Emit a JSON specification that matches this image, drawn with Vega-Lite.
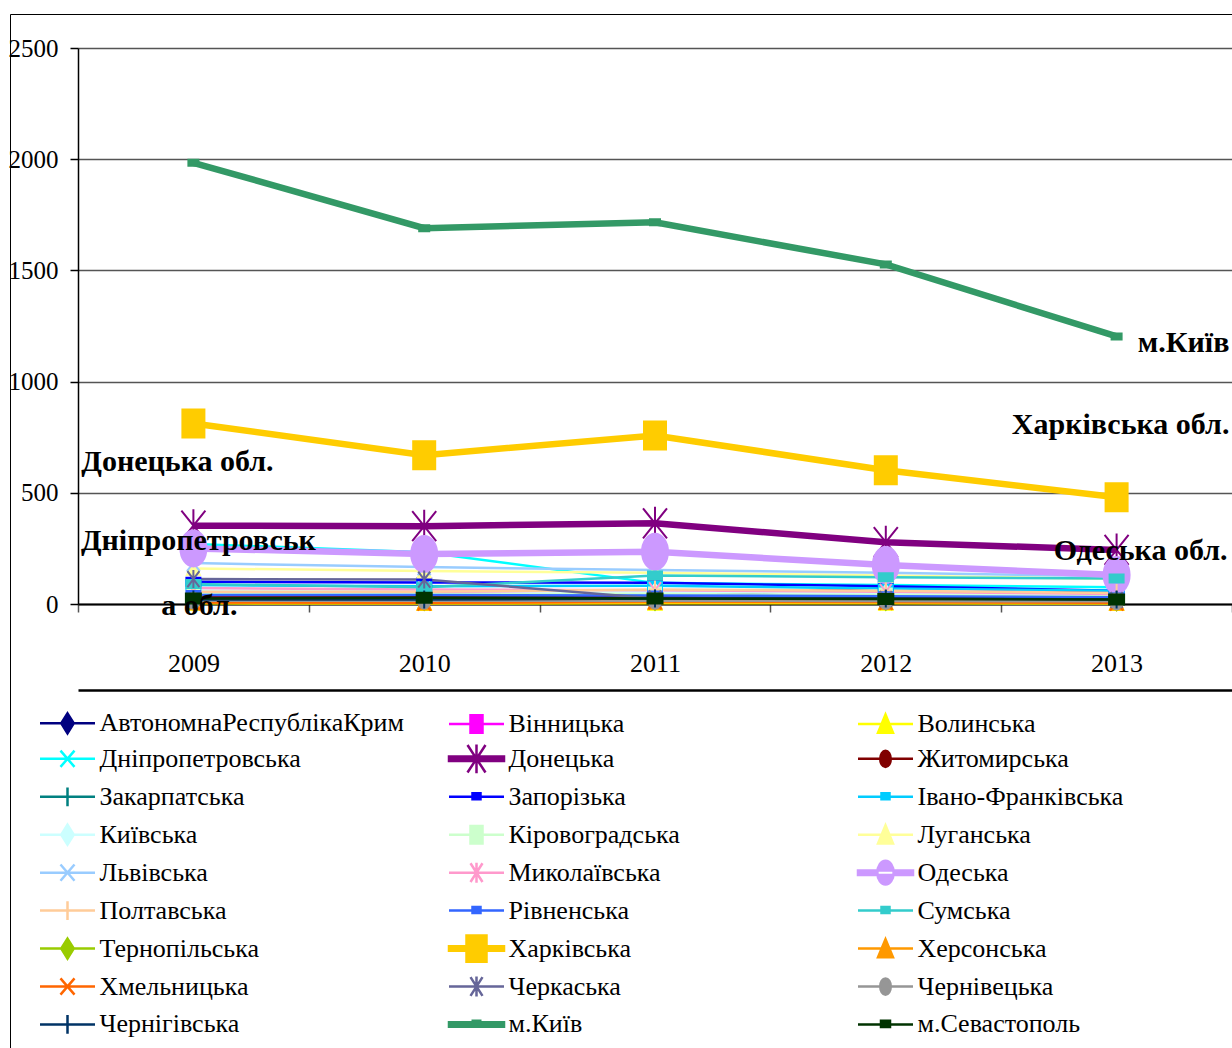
{
  "$schema": "https://vega.github.io/schema/vega-lite/v6.json",
  "width": 1154,
  "height": 556,
  "autosize": {"type": "none"},
  "padding": {"left": 78, "top": 48, "right": 0, "bottom": 444},
  "background": "white",
  "config": {"view": {"stroke": null}, "font": "Liberation Serif", "axis": {"labelFont": "Liberation Serif"}, "legend": {"labelFont": "Liberation Serif"}},
  "datasets": {
    "series": [
      {"region": "АвтономнаРеспублікаКрим", "year": "2009", "value": 28},
      {"region": "АвтономнаРеспублікаКрим", "year": "2010", "value": 28},
      {"region": "АвтономнаРеспублікаКрим", "year": "2011", "value": 32},
      {"region": "АвтономнаРеспублікаКрим", "year": "2012", "value": 75},
      {"region": "АвтономнаРеспублікаКрим", "year": "2013", "value": 55},
      {"region": "Вінницька", "year": "2009", "value": 45},
      {"region": "Вінницька", "year": "2010", "value": 50},
      {"region": "Вінницька", "year": "2011", "value": 40},
      {"region": "Вінницька", "year": "2012", "value": 35},
      {"region": "Вінницька", "year": "2013", "value": 30},
      {"region": "Волинська", "year": "2009", "value": 3},
      {"region": "Волинська", "year": "2010", "value": 2},
      {"region": "Волинська", "year": "2011", "value": 3},
      {"region": "Волинська", "year": "2012", "value": 3},
      {"region": "Волинська", "year": "2013", "value": 2},
      {"region": "Дніпропетровська", "year": "2009", "value": 270},
      {"region": "Дніпропетровська", "year": "2010", "value": 233},
      {"region": "Дніпропетровська", "year": "2011", "value": 95},
      {"region": "Дніпропетровська", "year": "2012", "value": 85},
      {"region": "Дніпропетровська", "year": "2013", "value": 75},
      {"region": "Донецька", "year": "2009", "value": 352},
      {"region": "Донецька", "year": "2010", "value": 350},
      {"region": "Донецька", "year": "2011", "value": 363},
      {"region": "Донецька", "year": "2012", "value": 278},
      {"region": "Донецька", "year": "2013", "value": 243},
      {"region": "Житомирська", "year": "2009", "value": 35},
      {"region": "Житомирська", "year": "2010", "value": 30},
      {"region": "Житомирська", "year": "2011", "value": 28},
      {"region": "Житомирська", "year": "2012", "value": 28},
      {"region": "Житомирська", "year": "2013", "value": 25},
      {"region": "Закарпатська", "year": "2009", "value": 18},
      {"region": "Закарпатська", "year": "2010", "value": 18},
      {"region": "Закарпатська", "year": "2011", "value": 18},
      {"region": "Закарпатська", "year": "2012", "value": 18},
      {"region": "Закарпатська", "year": "2013", "value": 15},
      {"region": "Запорізька", "year": "2009", "value": 100},
      {"region": "Запорізька", "year": "2010", "value": 97},
      {"region": "Запорізька", "year": "2011", "value": 95},
      {"region": "Запорізька", "year": "2012", "value": 80},
      {"region": "Запорізька", "year": "2013", "value": 60},
      {"region": "Івано-Франківська", "year": "2009", "value": 85},
      {"region": "Івано-Франківська", "year": "2010", "value": 80},
      {"region": "Івано-Франківська", "year": "2011", "value": 82},
      {"region": "Івано-Франківська", "year": "2012", "value": 70},
      {"region": "Івано-Франківська", "year": "2013", "value": 60},
      {"region": "Київська", "year": "2009", "value": 60},
      {"region": "Київська", "year": "2010", "value": 58},
      {"region": "Київська", "year": "2011", "value": 55},
      {"region": "Київська", "year": "2012", "value": 50},
      {"region": "Київська", "year": "2013", "value": 45},
      {"region": "Кіровоградська", "year": "2009", "value": 50},
      {"region": "Кіровоградська", "year": "2010", "value": 45},
      {"region": "Кіровоградська", "year": "2011", "value": 45},
      {"region": "Кіровоградська", "year": "2012", "value": 40},
      {"region": "Кіровоградська", "year": "2013", "value": 35},
      {"region": "Луганська", "year": "2009", "value": 160},
      {"region": "Луганська", "year": "2010", "value": 148},
      {"region": "Луганська", "year": "2011", "value": 140},
      {"region": "Луганська", "year": "2012", "value": 128},
      {"region": "Луганська", "year": "2013", "value": 112},
      {"region": "Львівська", "year": "2009", "value": 184},
      {"region": "Львівська", "year": "2010", "value": 166},
      {"region": "Львівська", "year": "2011", "value": 153},
      {"region": "Львівська", "year": "2012", "value": 140},
      {"region": "Львівська", "year": "2013", "value": 125},
      {"region": "Миколаївська", "year": "2009", "value": 72},
      {"region": "Миколаївська", "year": "2010", "value": 65},
      {"region": "Миколаївська", "year": "2011", "value": 62},
      {"region": "Миколаївська", "year": "2012", "value": 55},
      {"region": "Миколаївська", "year": "2013", "value": 45},
      {"region": "Одеська", "year": "2009", "value": 250},
      {"region": "Одеська", "year": "2010", "value": 225},
      {"region": "Одеська", "year": "2011", "value": 235},
      {"region": "Одеська", "year": "2012", "value": 175},
      {"region": "Одеська", "year": "2013", "value": 130},
      {"region": "Полтавська", "year": "2009", "value": 55},
      {"region": "Полтавська", "year": "2010", "value": 55},
      {"region": "Полтавська", "year": "2011", "value": 65},
      {"region": "Полтавська", "year": "2012", "value": 60},
      {"region": "Полтавська", "year": "2013", "value": 50},
      {"region": "Рівненська", "year": "2009", "value": 40},
      {"region": "Рівненська", "year": "2010", "value": 40},
      {"region": "Рівненська", "year": "2011", "value": 38},
      {"region": "Рівненська", "year": "2012", "value": 35},
      {"region": "Рівненська", "year": "2013", "value": 30},
      {"region": "Сумська", "year": "2009", "value": 90},
      {"region": "Сумська", "year": "2010", "value": 75},
      {"region": "Сумська", "year": "2011", "value": 128},
      {"region": "Сумська", "year": "2012", "value": 120},
      {"region": "Сумська", "year": "2013", "value": 115},
      {"region": "Тернопільська", "year": "2009", "value": 10},
      {"region": "Тернопільська", "year": "2010", "value": 10},
      {"region": "Тернопільська", "year": "2011", "value": 10},
      {"region": "Тернопільська", "year": "2012", "value": 10},
      {"region": "Тернопільська", "year": "2013", "value": 8},
      {"region": "Харківська", "year": "2009", "value": 812},
      {"region": "Харківська", "year": "2010", "value": 669},
      {"region": "Харківська", "year": "2011", "value": 758},
      {"region": "Харківська", "year": "2012", "value": 601},
      {"region": "Харківська", "year": "2013", "value": 480},
      {"region": "Херсонська", "year": "2009", "value": 6},
      {"region": "Херсонська", "year": "2010", "value": 4},
      {"region": "Херсонська", "year": "2011", "value": 8},
      {"region": "Херсонська", "year": "2012", "value": 7},
      {"region": "Херсонська", "year": "2013", "value": 4},
      {"region": "Хмельницька", "year": "2009", "value": 8},
      {"region": "Хмельницька", "year": "2010", "value": 6},
      {"region": "Хмельницька", "year": "2011", "value": 12},
      {"region": "Хмельницька", "year": "2012", "value": 10},
      {"region": "Хмельницька", "year": "2013", "value": 6},
      {"region": "Черкаська", "year": "2009", "value": 112},
      {"region": "Черкаська", "year": "2010", "value": 110},
      {"region": "Черкаська", "year": "2011", "value": 25},
      {"region": "Черкаська", "year": "2012", "value": 22},
      {"region": "Черкаська", "year": "2013", "value": 18},
      {"region": "Чернівецька", "year": "2009", "value": 15},
      {"region": "Чернівецька", "year": "2010", "value": 15},
      {"region": "Чернівецька", "year": "2011", "value": 15},
      {"region": "Чернівецька", "year": "2012", "value": 14},
      {"region": "Чернівецька", "year": "2013", "value": 12},
      {"region": "Чернігівська", "year": "2009", "value": 20},
      {"region": "Чернігівська", "year": "2010", "value": 20},
      {"region": "Чернігівська", "year": "2011", "value": 25},
      {"region": "Чернігівська", "year": "2012", "value": 25},
      {"region": "Чернігівська", "year": "2013", "value": 20},
      {"region": "м.Київ", "year": "2009", "value": 1984},
      {"region": "м.Київ", "year": "2010", "value": 1690},
      {"region": "м.Київ", "year": "2011", "value": 1716},
      {"region": "м.Київ", "year": "2012", "value": 1527},
      {"region": "м.Київ", "year": "2013", "value": 1203},
      {"region": "м.Севастополь", "year": "2009", "value": 25},
      {"region": "м.Севастополь", "year": "2010", "value": 28},
      {"region": "м.Севастополь", "year": "2011", "value": 25},
      {"region": "м.Севастополь", "year": "2012", "value": 22},
      {"region": "м.Севастополь", "year": "2013", "value": 20}
    ]
  },
  "data": {"name": "series"},
  "layer": [
    {
      "transform": [{"filter": {"not": {"field": "region", "oneOf": ["Донецька", "Одеська", "Харківська", "м.Київ"]}}}],
      "mark": {"type": "line", "strokeWidth": 2.5},
      "encoding": {
        "x": {
          "field": "year", "type": "ordinal",
          "scale": {"type": "band", "paddingInner": 0, "paddingOuter": 0},
          "axis": {"title": null, "tickBand": "extent", "domainColor": "black", "domainWidth": 2, "tickColor": "#555555", "tickSize": 8, "tickWidth": 1.5, "labelFont": "Liberation Serif", "labelFontSize": 26, "labelColor": "black", "labelPadding": 38, "labelAngle": 0, "grid": false}
        },
        "y": {
          "field": "value", "type": "quantitative",
          "scale": {"domain": [0, 2500], "nice": false},
          "axis": {"title": null, "format": "d", "values": [0, 500, 1000, 1500, 2000, 2500], "domainColor": "black", "domainWidth": 1.5, "tickColor": "black", "tickSize": 8, "tickWidth": 1.5, "labelFont": "Liberation Serif", "labelFontSize": 25, "labelColor": "black", "labelPadding": 12, "grid": true, "gridColor": "#555555", "gridWidth": 1.5}
        },
        "color": {
          "field": "region", "type": "nominal", "legend": null,
          "scale": {
            "domain": ["АвтономнаРеспублікаКрим", "Вінницька", "Волинська", "Дніпропетровська", "Донецька", "Житомирська", "Закарпатська", "Запорізька", "Івано-Франківська", "Київська", "Кіровоградська", "Луганська", "Львівська", "Миколаївська", "Одеська", "Полтавська", "Рівненська", "Сумська", "Тернопільська", "Харківська", "Херсонська", "Хмельницька", "Черкаська", "Чернівецька", "Чернігівська", "м.Київ", "м.Севастополь"],
            "range": ["#000080", "#FF00FF", "#FFFF00", "#00FFFF", "#800080", "#800000", "#008080", "#0000FF", "#00CCFF", "#CCFFFF", "#CCFFCC", "#FFFF99", "#99CCFF", "#FF99CC", "#CC99FF", "#FFCC99", "#3366FF", "#33CCCC", "#99CC00", "#FFCC00", "#FF9900", "#FF6600", "#666699", "#969696", "#003366", "#339966", "#003300"]
          }
        }
      }
    },
    {
      "transform": [{"filter": {"field": "region", "oneOf": ["Донецька", "Одеська", "Харківська", "м.Київ"]}}],
      "mark": {"type": "line", "strokeWidth": 6.5},
      "encoding": {
        "x": {"field": "year", "type": "ordinal", "axis": null},
        "y": {"field": "value", "type": "quantitative"},
        "color": {"field": "region", "type": "nominal", "legend": null}
      }
    },
    {
      "mark": {"type": "point", "filled": true, "opacity": 1, "size": 100, "strokeWidth": 2},
      "encoding": {
        "x": {"field": "year", "type": "ordinal", "axis": null},
        "y": {"field": "value", "type": "quantitative"},
        "color": {"field": "region", "type": "nominal", "legend": null},
        "stroke": {
          "field": "region", "type": "nominal", "legend": null,
          "scale": {
            "domain": ["АвтономнаРеспублікаКрим", "Вінницька", "Волинська", "Дніпропетровська", "Донецька", "Житомирська", "Закарпатська", "Запорізька", "Івано-Франківська", "Київська", "Кіровоградська", "Луганська", "Львівська", "Миколаївська", "Одеська", "Полтавська", "Рівненська", "Сумська", "Тернопільська", "Харківська", "Херсонська", "Хмельницька", "Черкаська", "Чернівецька", "Чернігівська", "м.Київ", "м.Севастополь"],
            "range": ["#000080", "#FF00FF", "#FFFF00", "#00FFFF", "#800080", "#800000", "#008080", "#0000FF", "#00CCFF", "#CCFFFF", "#CCFFCC", "#FFFF99", "#99CCFF", "#FF99CC", "#CC99FF", "#FFCC99", "#3366FF", "#33CCCC", "#99CC00", "#FFCC00", "#FF9900", "#FF6600", "#666699", "#969696", "#003366", "#339966", "#003300"]
          }
        },
        "shape": {
          "field": "region", "type": "nominal", "legend": null,
          "scale": {
            "domain": ["АвтономнаРеспублікаКрим", "Вінницька", "Волинська", "Дніпропетровська", "Донецька", "Житомирська", "Закарпатська", "Запорізька", "Івано-Франківська", "Київська", "Кіровоградська", "Луганська", "Львівська", "Миколаївська", "Одеська", "Полтавська", "Рівненська", "Сумська", "Тернопільська", "Харківська", "Херсонська", "Хмельницька", "Черкаська", "Чернівецька", "Чернігівська", "м.Київ", "м.Севастополь"],
            "range": [
              "M0,-1.6L1.2,0L0,1.6L-1.2,0Z",
              "M-1.2,-1.3H1.2V1.3H-1.2Z",
              "M0,-1.5L1.3,1.3H-1.3Z",
              "M-1.3,-1.6L1.3,1.6M-1.3,1.6L1.3,-1.6",
              "M-2.4,-3L2.4,3M-2.4,3L2.4,-3M0,-3.3V3.3",
              "M-1.2,0A1.2,1.6,0,1,0,1.2,0A1.2,1.6,0,1,0,-1.2,0Z",
              "M-1.2,0H1.2M0,-1.8V1.8",
              "M-1.4,-0.8H1.4V0.8H-1.4Z",
              "M-1.4,-0.8H1.4V0.8H-1.4Z",
              "M0,-1.6L1.2,0L0,1.6L-1.2,0Z",
              "M-1.2,-1.3H1.2V1.3H-1.2Z",
              "M0,-1.5L1.3,1.3H-1.3Z",
              "M-1.3,-1.6L1.3,1.6M-1.3,1.6L1.3,-1.6",
              "M-1.2,-1.6L1.2,1.6M-1.2,1.6L1.2,-1.6M0,-1.8V1.8",
              "M-2.6,0A2.6,3.6,0,1,0,2.6,0A2.6,3.6,0,1,0,-2.6,0Z",
              "M-1.2,0H1.2M0,-1.8V1.8",
              "M-1.4,-0.8H1.4V0.8H-1.4Z",
              "M-1.4,-0.8H1.4V0.8H-1.4Z",
              "M0,-1.6L1.2,0L0,1.6L-1.2,0Z",
              "M-2.2,-2.8H2.2V2.8H-2.2Z",
              "M0,-1.5L1.3,1.3H-1.3Z",
              "M-1.3,-1.6L1.3,1.6M-1.3,1.6L1.3,-1.6",
              "M-1.2,-1.6L1.2,1.6M-1.2,1.6L1.2,-1.6M0,-1.8V1.8",
              "M-1.2,0A1.2,1.6,0,1,0,1.2,0A1.2,1.6,0,1,0,-1.2,0Z",
              "M-1.2,0H1.2M0,-1.8V1.8",
              "M-1,-0.6H1V0.6H-1Z",
              "M-1.5,-1H1.5V1H-1.5Z"
            ]
          }
        }
      }
    },
    {
      "data": {"values": [{"label": "м.Київ", "year": "2013", "value": 1174}]},
      "mark": {"type": "text", "font": "Liberation Serif", "fontWeight": "bold", "fontSize": 30, "color": "black", "align": "center", "baseline": "middle", "dx": 67},
      "encoding": {"x": {"field": "year", "type": "ordinal", "axis": null}, "y": {"field": "value", "type": "quantitative"}, "text": {"field": "label"}}
    },
    {
      "data": {"values": [{"label": "Харківська обл.", "year": "2013", "value": 805}]},
      "mark": {"type": "text", "font": "Liberation Serif", "fontWeight": "bold", "fontSize": 30, "color": "black", "align": "center", "baseline": "middle", "dx": 4},
      "encoding": {"x": {"field": "year", "type": "ordinal", "axis": null}, "y": {"field": "value", "type": "quantitative"}, "text": {"field": "label"}}
    },
    {
      "data": {"values": [{"label": "Донецька обл.", "year": "2009", "value": 638}]},
      "mark": {"type": "text", "font": "Liberation Serif", "fontWeight": "bold", "fontSize": 30, "color": "black", "align": "center", "baseline": "middle", "dx": -16},
      "encoding": {"x": {"field": "year", "type": "ordinal", "axis": null}, "y": {"field": "value", "type": "quantitative"}, "text": {"field": "label"}}
    },
    {
      "data": {"values": [{"label": "Дніпропетровськ", "year": "2009", "value": 283}]},
      "mark": {"type": "text", "font": "Liberation Serif", "fontWeight": "bold", "fontSize": 30, "color": "black", "align": "center", "baseline": "middle", "dx": 5},
      "encoding": {"x": {"field": "year", "type": "ordinal", "axis": null}, "y": {"field": "value", "type": "quantitative"}, "text": {"field": "label"}}
    },
    {
      "data": {"values": [{"label": "а обл.", "year": "2009", "value": -9}]},
      "mark": {"type": "text", "font": "Liberation Serif", "fontWeight": "bold", "fontSize": 30, "color": "black", "align": "center", "baseline": "middle", "dx": 6},
      "encoding": {"x": {"field": "year", "type": "ordinal", "axis": null}, "y": {"field": "value", "type": "quantitative"}, "text": {"field": "label"}}
    },
    {
      "data": {"values": [{"label": "Одеська обл.", "year": "2013", "value": 238}]},
      "mark": {"type": "text", "font": "Liberation Serif", "fontWeight": "bold", "fontSize": 30, "color": "black", "align": "center", "baseline": "middle", "dx": 24},
      "encoding": {"x": {"field": "year", "type": "ordinal", "axis": null}, "y": {"field": "value", "type": "quantitative"}, "text": {"field": "label"}}
    },
    {
      "transform": [{"filter": "false"}],
      "mark": {"type": "point", "filled": true, "opacity": 1},
      "encoding": {
        "x": {"field": "year", "type": "ordinal", "axis": {"orient": "bottom", "offset": 86, "labels": false, "ticks": false, "grid": false, "domainColor": "black", "domainWidth": 2.5, "title": null}},
        "fill": {
          "field": "region", "type": "nominal",
          "scale": {
            "domain": ["АвтономнаРеспублікаКрим", "Вінницька", "Волинська", "Дніпропетровська", "Донецька", "Житомирська", "Закарпатська", "Запорізька", "Івано-Франківська", "Київська", "Кіровоградська", "Луганська", "Львівська", "Миколаївська", "Одеська", "Полтавська", "Рівненська", "Сумська", "Тернопільська", "Харківська", "Херсонська", "Хмельницька", "Черкаська", "Чернівецька", "Чернігівська", "м.Київ", "м.Севастополь"],
            "range": ["#000080", "#FF00FF", "#FFFF00", "#00FFFF", "#800080", "#800000", "#008080", "#0000FF", "#00CCFF", "#CCFFFF", "#CCFFCC", "#FFFF99", "#99CCFF", "#FF99CC", "#CC99FF", "#FFCC99", "#3366FF", "#33CCCC", "#99CC00", "#FFCC00", "#FF9900", "#FF6600", "#666699", "#969696", "#003366", "#339966", "#003300"]
          }
        },
        "stroke": {
          "field": "region", "type": "nominal",
          "scale": {
            "domain": ["АвтономнаРеспублікаКрим", "Вінницька", "Волинська", "Дніпропетровська", "Донецька", "Житомирська", "Закарпатська", "Запорізька", "Івано-Франківська", "Київська", "Кіровоградська", "Луганська", "Львівська", "Миколаївська", "Одеська", "Полтавська", "Рівненська", "Сумська", "Тернопільська", "Харківська", "Херсонська", "Хмельницька", "Черкаська", "Чернівецька", "Чернігівська", "м.Київ", "м.Севастополь"],
            "range": ["#000080", "#FF00FF", "#FFFF00", "#00FFFF", "#800080", "#800000", "#008080", "#0000FF", "#00CCFF", "#CCFFFF", "#CCFFCC", "#FFFF99", "#99CCFF", "#FF99CC", "#CC99FF", "#FFCC99", "#3366FF", "#33CCCC", "#99CC00", "#FFCC00", "#FF9900", "#FF6600", "#666699", "#969696", "#003366", "#339966", "#003300"]
          }
        },
        "shape": {
          "field": "region", "type": "nominal",
          "scale": {
            "domain": ["АвтономнаРеспублікаКрим", "Вінницька", "Волинська", "Дніпропетровська", "Донецька", "Житомирська", "Закарпатська", "Запорізька", "Івано-Франківська", "Київська", "Кіровоградська", "Луганська", "Львівська", "Миколаївська", "Одеська", "Полтавська", "Рівненська", "Сумська", "Тернопільська", "Харківська", "Херсонська", "Хмельницька", "Черкаська", "Чернівецька", "Чернігівська", "м.Київ", "м.Севастополь"],
            "range": [
              "M-2.2,0H2.2M0,-0.8L0.5,0L0,0.8L-0.5,0Z",
              "M-2.2,0H2.2M-0.48,-0.7H0.48V0.7H-0.48Z",
              "M-2.2,0H2.2M0,-0.75L0.6,0.7H-0.6Z",
              "M-2.2,0H2.2M-0.56,-0.65L0.56,0.65M-0.56,0.65L0.56,-0.65",
              "M-2.2,-0.18H2.2V0.18H-2.2ZM-0.72,-1.1L0.72,1.1M-0.72,1.1L0.72,-1.1M0,-1.15V1.15",
              "M-2.2,0H2.2M-0.42,0A0.42,0.65,0,1,0,0.42,0A0.42,0.65,0,1,0,-0.42,0Z",
              "M-2.2,0H2.2M0,-0.75V0.75",
              "M-2.2,0H2.2M-0.32,-0.28H0.32V0.2H-0.32Z",
              "M-2.2,0H2.2M-0.32,-0.28H0.32V0.2H-0.32Z",
              "M-2.2,0H2.2M0,-0.8L0.5,0L0,0.8L-0.5,0Z",
              "M-2.2,0H2.2M-0.48,-0.7H0.48V0.7H-0.48Z",
              "M-2.2,0H2.2M0,-0.75L0.6,0.7H-0.6Z",
              "M-2.2,0H2.2M-0.56,-0.65L0.56,0.65M-0.56,0.65L0.56,-0.65",
              "M-2.2,0H2.2M-0.48,-0.75L0.48,0.75M-0.48,0.75L0.48,-0.75M0,-0.8V0.8",
              "M-2.2,-0.18H2.2V0.18H-2.2ZM-0.65,0A0.65,0.95,0,1,0,0.65,0A0.65,0.95,0,1,0,-0.65,0Z",
              "M-2.2,0H2.2M0,-0.75V0.75",
              "M-2.2,0H2.2M-0.32,-0.28H0.32V0.2H-0.32Z",
              "M-2.2,0H2.2M-0.32,-0.28H0.32V0.2H-0.32Z",
              "M-2.2,0H2.2M0,-0.8L0.5,0L0,0.8L-0.5,0Z",
              "M-2.2,-0.18H2.2V0.18H-2.2ZM-0.8,-1.05H0.8V1.05H-0.8Z",
              "M-2.2,0H2.2M0,-0.75L0.6,0.7H-0.6Z",
              "M-2.2,0H2.2M-0.56,-0.65L0.56,0.65M-0.56,0.65L0.56,-0.65",
              "M-2.2,0H2.2M-0.48,-0.75L0.48,0.75M-0.48,0.75L0.48,-0.75M0,-0.8V0.8",
              "M-2.2,0H2.2M-0.42,0A0.42,0.65,0,1,0,0.42,0A0.42,0.65,0,1,0,-0.42,0Z",
              "M-2.2,0H2.2M0,-0.75V0.75",
              "M-2.2,-0.18H2.2V0.18H-2.2ZM-0.3,-0.3H0.3V0.1H-0.3Z",
              "M-2.2,0H2.2M-0.36,-0.3H0.36V0.2H-0.36Z"
            ]
          },
          "legend": {
            "orient": "none", "legendX": -68, "legendY": -34, "direction": "horizontal",
            "title": "————————————————————————————————————————————————————————————————————————————————————————————————————————————————————————————————————————————————————————————————————————————————————————————————————————————————————————————————————————————————————————————————————————————————————————————————————————————————————————————————————————————————————————————————————————————————————————————————————————————————————————————————————————————————————",
            "titleFontSize": 2.85, "titleLimit": 3000, "titlePadding": 672, "titleOpacity": 0, "titleFont": "Liberation Serif",
            "columns": 3, "gridAlign": "all", "columnPadding": 33, "rowPadding": -2.05,
            "padding": 18, "strokeColor": "black",
            "symbolSize": 625, "symbolStrokeWidth": 2.5, "symbolOffset": 25.5, "labelOffset": 18, "symbolOpacity": 1,
            "labelFont": "Liberation Serif", "labelFontSize": 26, "labelColor": "black", "labelLimit": 0,
            "encode": {"legend": {"strokeWidth": {"value": 3}}}
          }
        }
      }
    }
  ],
  "resolve": {"scale": {"shape": "independent", "fill": "independent", "stroke": "independent"}, "axis": {"x": "independent"}}
}
